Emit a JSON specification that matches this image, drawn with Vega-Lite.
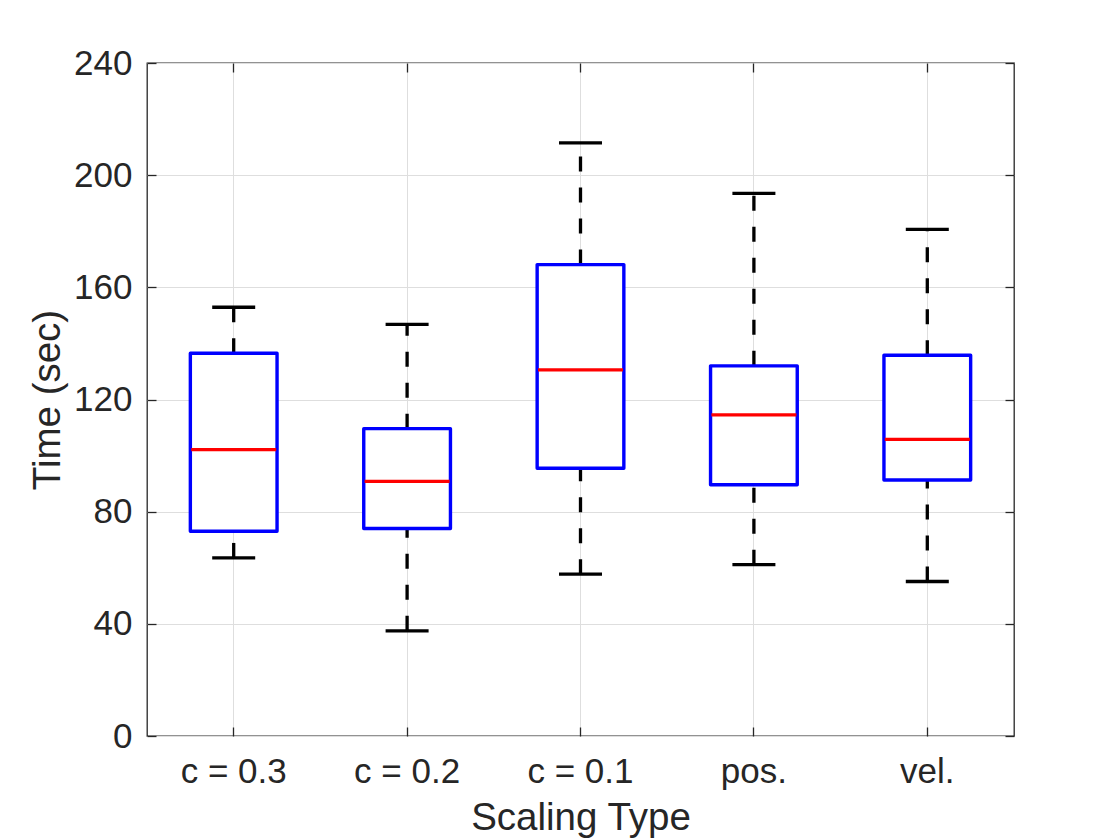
{
  "$schema": "https://vega.github.io/schema/vega-lite/v6.json",
  "autosize": "none",
  "width": 867,
  "height": 673,
  "padding": {"left": 147, "top": 63, "right": 106, "bottom": 104},
  "background": "white",
  "config": {
    "font": "Liberation Sans",
    "view": {"stroke": "#262626", "strokeWidth": 1.3},
    "axis": {
      "domain": false,
      "grid": false,
      "gridColor": "#dedede",
      "gridWidth": 1,
      "tickColor": "#262626",
      "tickWidth": 1.3,
      "tickSize": 9,
      "labelColor": "#262626",
      "labelFont": "Liberation Sans",
      "labelFontSize": 35,
      "titleColor": "#262626",
      "titleFont": "Liberation Sans",
      "titleFontSize": 38.5,
      "titleFontWeight": "normal"
    }
  },
  "data": {
    "values": [
      {"type": "c = 0.3", "lower": 63.5, "q1": 73.0, "median": 102.1, "q3": 136.5, "upper": 152.9},
      {"type": "c = 0.2", "lower": 37.5, "q1": 74.0, "median": 90.8, "q3": 109.6, "upper": 146.8},
      {"type": "c = 0.1", "lower": 57.7, "q1": 95.5, "median": 130.6, "q3": 168.1, "upper": 211.5},
      {"type": "pos.", "lower": 61.1, "q1": 89.6, "median": 114.5, "q3": 132.0, "upper": 193.5},
      {"type": "vel.", "lower": 55.1, "q1": 91.3, "median": 105.8, "q3": 135.8, "upper": 180.7}
    ]
  },
  "resolve": {"axis": {"x": "independent", "y": "independent"}},
  "layer": [
    {
      "mark": {"type": "rule", "color": "black", "strokeWidth": 3.3, "strokeDash": [15, 16]},
      "encoding": {
        "x": {
          "field": "type",
          "type": "nominal",
          "sort": null,
          "scale": {"paddingInner": 0, "paddingOuter": 0},
          "axis": {
            "orient": "bottom",
            "title": "Scaling Type",
            "grid": true,
            "ticks": false,
            "labelAngle": 0,
            "labelBaseline": "alphabetic",
            "labelPadding": 46,
            "titlePadding": 10
          }
        },
        "y": {
          "field": "q3",
          "type": "quantitative",
          "scale": {"domain": [0, 240], "nice": false},
          "axis": {
            "orient": "left",
            "title": "Time (sec)",
            "grid": true,
            "ticks": false,
            "values": [0, 40, 80, 120, 160, 200, 240],
            "labelPadding": 15,
            "titlePadding": 6
          }
        },
        "y2": {"field": "upper"}
      }
    },
    {
      "mark": {"type": "rule", "color": "black", "strokeWidth": 3.3, "strokeDash": [15, 16]},
      "encoding": {
        "x": {
          "field": "type",
          "type": "nominal",
          "sort": null,
          "axis": {"orient": "top", "offset": -673, "labels": false, "title": null}
        },
        "y": {
          "field": "lower",
          "type": "quantitative",
          "axis": {"orient": "right", "offset": -867, "labels": false, "title": null, "values": [0, 40, 80, 120, 160, 200, 240]}
        },
        "y2": {"field": "q1"}
      }
    },
    {
      "mark": {"type": "tick", "color": "black", "size": 43, "thickness": 3.3, "opacity": 1},
      "encoding": {
        "x": {
          "field": "type",
          "type": "nominal",
          "sort": null,
          "axis": {"orient": "bottom", "offset": -673, "labels": false, "title": null}
        },
        "y": {
          "field": "upper",
          "type": "quantitative",
          "axis": {"orient": "left", "offset": -867, "labels": false, "title": null, "values": [0, 40, 80, 120, 160, 200, 240]}
        }
      }
    },
    {
      "mark": {"type": "tick", "color": "black", "size": 43, "thickness": 3.3, "opacity": 1},
      "encoding": {
        "x": {"field": "type", "type": "nominal", "sort": null, "axis": null},
        "y": {"field": "lower", "type": "quantitative", "axis": null}
      }
    },
    {
      "mark": {"type": "bar", "width": {"band": 0.5}, "fill": "white", "stroke": "#0000ff", "strokeWidth": 3.4, "strokeJoin": "round"},
      "encoding": {
        "x": {"field": "type", "type": "nominal", "sort": null, "axis": null},
        "y": {"field": "q1", "type": "quantitative", "axis": null},
        "y2": {"field": "q3"}
      }
    },
    {
      "mark": {"type": "tick", "color": "#ff0000", "size": 85, "thickness": 3.3, "opacity": 1},
      "encoding": {
        "x": {"field": "type", "type": "nominal", "sort": null, "axis": null},
        "y": {"field": "median", "type": "quantitative", "axis": null}
      }
    }
  ]
}
